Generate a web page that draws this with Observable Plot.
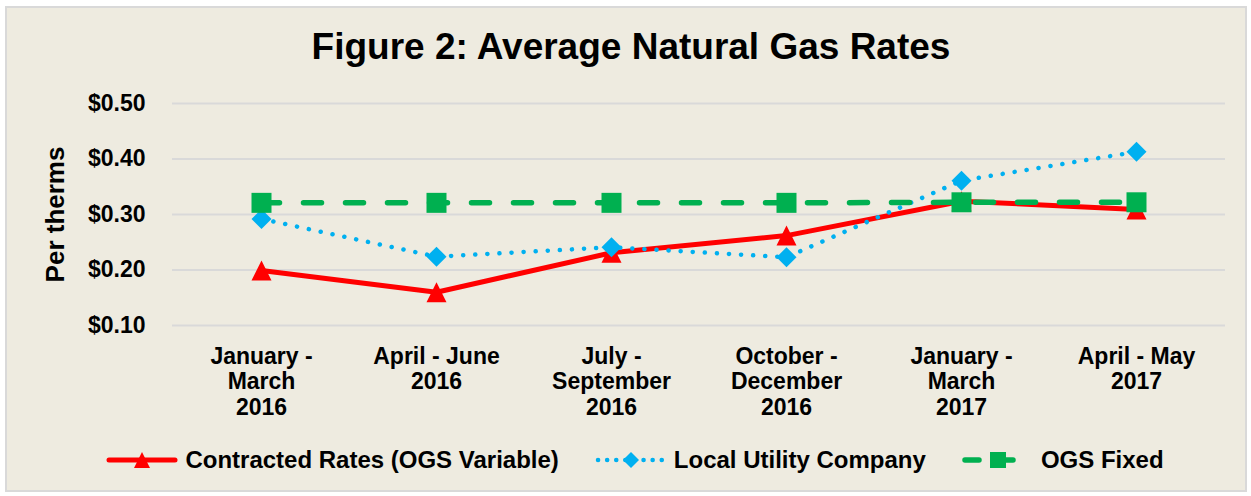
<!DOCTYPE html>
<html>
<head>
<meta charset="utf-8">
<script src="https://cdn.jsdelivr.net/npm/d3@7"></script>
<script src="https://cdn.jsdelivr.net/npm/@observablehq/plot@0.6"></script>
<style>
  html, body { margin: 0; padding: 0; background: #ffffff; }
  body { width: 1251px; height: 496px; position: relative; overflow: hidden; font-family: Arial, "Liberation Sans", sans-serif; }
  #frame { position: absolute; left: 5px; top: 6px; width: 1238px; height: 482px; border: 2px solid #d9d9d9; background: #EEEBE0; }
  #title { position: absolute; left: 0; top: 18px; width: 1248px; text-align: center; font-size: 37px; line-height: 42px; font-weight: bold; color: #000; }
  #chart { position: absolute; left: 0; top: 72px; }
  #legend { position: absolute; left: 0; top: 437px; width: 1256px; height: 30px; display: flex; justify-content: center; align-items: center; gap: 36px; font-size: 24px; font-weight: bold; color: #000; }
  .item { display: flex; align-items: center; gap: 7px; }
  .item svg { display: block; }
</style>
</head>
<body>
<div id="frame">
  <div id="title">Figure 2: Average Natural Gas Rates</div>
  <div id="chart"></div>
  <div id="legend"></div>
</div>
<script>
// ---- data ----
const categories = [
  "January -\nMarch\n2016",
  "April - June\n2016",
  "July -\nSeptember\n2016",
  "October -\nDecember\n2016",
  "January -\nMarch\n2017",
  "April - May\n2017"
];
const contracted = [0.199, 0.160, 0.231, 0.262, 0.324, 0.309];
const localUtility = [0.292, 0.224, 0.241, 0.223, 0.361, 0.413];
const ogsFixed = [0.321, 0.321, 0.321, 0.321, 0.322, 0.322];
const yTicks = [0.1, 0.2, 0.3, 0.4, 0.5];
const seriesNames = ["Contracted Rates (OGS Variable)", "Local Utility Company", "OGS Fixed"];
const yLabel = "Per therms";

// ---- build ----
const rows = (vals) => categories.map((c, i) => ({cat: c, v: vals[i]}));
const dRed = rows(contracted), dBlue = rows(localUtility), dGreen = rows(ogsFixed);

const half = (size) => Math.sqrt(size / Math.PI);
const triSym = {draw(ctx, size) { const h = half(size); ctx.moveTo(0, -h); ctx.lineTo(h, h); ctx.lineTo(-h, h); ctx.closePath(); }};
const sqSym = {draw(ctx, size) { const h = half(size); ctx.rect(-h, -h, 2 * h, 2 * h); }};
const diaSym = {draw(ctx, size) { const h = half(size); ctx.moveTo(0, -h); ctx.lineTo(h, 0); ctx.lineTo(0, h); ctx.lineTo(-h, 0); ctx.closePath(); }};

const RED = "#FF0000", BLUE = "#00B0F0", GREEN = "#00B050";
const FONT = "Arial, 'Liberation Sans', sans-serif";

const plot = Plot.plot({
  width: 1238,
  height: 350,
  marginLeft: 165,
  marginRight: 20,
  marginTop: 23,
  marginBottom: 105,
  style: {background: "transparent", color: "#000", fontFamily: FONT},
  x: {type: "point", domain: categories, padding: 0.5},
  y: {domain: [0.1, 0.5]},
  marks: [
    Plot.gridY(yTicks, {stroke: "#d9d9d9", strokeOpacity: 1, strokeWidth: 2}),
    Plot.axisY(yTicks, {tickSize: 0, tickPadding: 27, fontSize: 23, fontWeight: "bold", tickFormat: d => "$" + d.toFixed(2), label: null}),
    Plot.axisX({tickSize: 0, tickPadding: 20, fontSize: 23, fontWeight: "bold", lineHeight: 1.11, label: null, tickFormat: d => d}),
    Plot.text([yLabel], {frameAnchor: "left", rotate: -90, dx: -127, lineAnchor: "top", textAnchor: "middle", fontSize: 26, fontWeight: "bold", text: d => d}),
    Plot.line(dRed, {x: "cat", y: "v", stroke: RED, strokeWidth: 5, strokeLinejoin: "round"}),
    Plot.dot(dRed, {x: "cat", y: "v", symbol: triSym, r: 10, fill: RED, stroke: "none"}),
    Plot.line(dBlue, {x: "cat", y: "v", stroke: BLUE, strokeWidth: 4.5, strokeDasharray: "0.1 12", strokeLinecap: "round"}),
    Plot.dot(dBlue, {x: "cat", y: "v", symbol: diaSym, r: 10, fill: BLUE, stroke: "none"}),
    Plot.line(dGreen, {x: "cat", y: "v", stroke: GREEN, strokeWidth: 5.5, strokeDasharray: "18 24", strokeLinecap: "round"}),
    Plot.dot(dGreen, {x: "cat", y: "v", symbol: sqSym, r: 10, fill: GREEN, stroke: "none"})
  ]
});
document.getElementById("chart").appendChild(plot);

// ---- legend ----
const legendSpecs = [
  {name: seriesNames[0], color: RED, dash: null, width: 5, sym: "tri"},
  {name: seriesNames[1], color: BLUE, dash: "0.1 9", width: 4.5, sym: "dia"},
  {name: seriesNames[2], color: GREEN, dash: "14 20", width: 5.5, sym: "sq"}
];
const legend = document.getElementById("legend");
for (const s of legendSpecs) {
  const item = document.createElement("div");
  item.className = "item";
  const ns = "http://www.w3.org/2000/svg";
  const svg = document.createElementNS(ns, "svg");
  svg.setAttribute("width", 72); svg.setAttribute("height", 24);
  const ln = document.createElementNS(ns, "line");
  ln.setAttribute("x1", 3); ln.setAttribute("x2", 69); ln.setAttribute("y1", 12); ln.setAttribute("y2", 12);
  ln.setAttribute("stroke", s.color); ln.setAttribute("stroke-width", s.width); ln.setAttribute("stroke-linecap", "round");
  if (s.dash) ln.setAttribute("stroke-dasharray", s.dash);
  svg.appendChild(ln);
  const p = document.createElementNS(ns, "path");
  const h = 8;
  let d;
  if (s.sym === "tri") d = `M36,${12 - h}L${36 + h},${12 + h}L${36 - h},${12 + h}Z`;
  else if (s.sym === "dia") d = `M36,${12 - h}L${36 + h},12L36,${12 + h}L${36 - h},12Z`;
  else d = `M${36 - h},${12 - h}h${2 * h}v${2 * h}h${-2 * h}Z`;
  p.setAttribute("d", d); p.setAttribute("fill", s.color);
  svg.appendChild(p);
  const t = document.createElement("span");
  t.textContent = s.name;
  item.appendChild(svg); item.appendChild(t);
  legend.appendChild(item);
}
</script>
</body>
</html>
